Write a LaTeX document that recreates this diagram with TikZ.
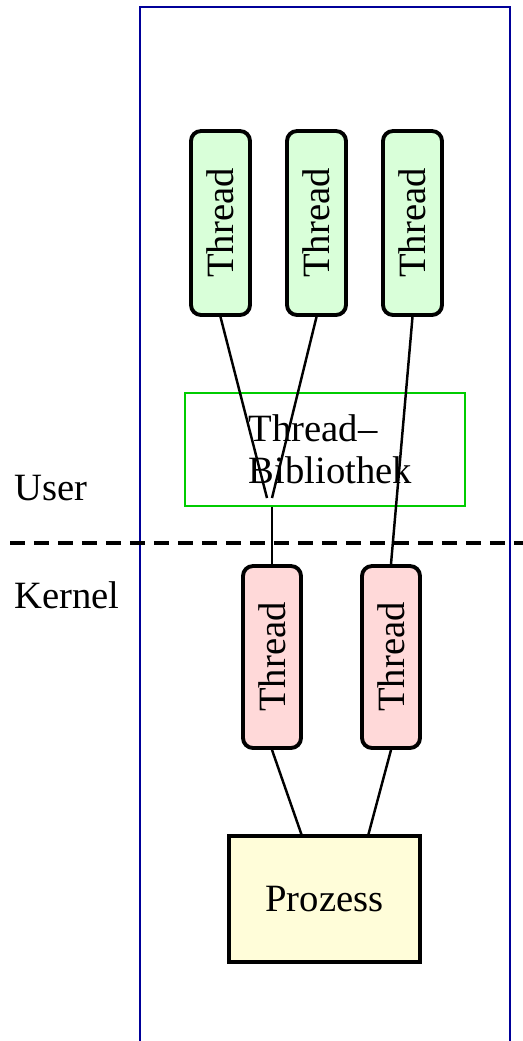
\documentclass[tikz,border=0pt]{standalone}
\usepackage{fontspec}
\setmainfont{Liberation Serif}
\tikzset{
  uthread/.style={draw,line width=2.2pt,rounded corners=0.2cm,fill=green!15,rotate=90,
    minimum width=3.68cm,minimum height=1.18cm,inner sep=0pt},
  kthread/.style={uthread,fill=red!15,minimum width=3.64cm,minimum height=1.16cm},
  link/.style={line width=1.4pt}
}
\begin{document}
\begin{tikzpicture}[x=0.02cm,y=-0.02cm,font=\fontsize{22}{26}\selectfont]
\useasboundingbox (0,0) rectangle (523,1041);
\draw[blue!60!black,line width=1.4pt] (140,1041) -- (140,7) -- (510,7) -- (510,1041);
\draw[line width=2.3pt,dash pattern=on 0.3cm off 0.18cm] (10,543) -- (523,543);
\node[anchor=base west] (user) at (8,500) {User};
\node[anchor=base west] (kernel) at (8,608) {Kernel};
% user threads
\node[uthread] (g1) at (220.5,223) {Thread};
\node[uthread] (g2) at (316.5,223) {Thread};
\node[uthread] (g3) at (412.5,223) {Thread};
% library
\node[draw=green!80!black,line width=1.2pt,minimum width=5.6cm,minimum height=2.26cm,
  align=left,inner sep=0pt,font=\fontsize{22}{24}\selectfont] (lib) at (325,449.5) {\hspace*{6pt}Thread--\\\hspace*{6pt}Bibliothek};
\coordinate (m1) at (267,498);
\coordinate (m2) at (272,498);
% kernel threads
\node[kthread] (k1) at (272,657) {Thread};
\node[kthread] (k2) at (391,657) {Thread};
\node[draw,line width=2.2pt,fill=yellow!15,minimum width=3.82cm,minimum height=2.52cm] (proc) at (324.5,899) {Prozess};
\draw[link] (g1.west) -- (m1);
\draw[link] (g2.west) -- (m2);
\draw[link] (lib.south -| k1) -- (k1.east);
\draw[link] (g3.west) -- (k2.east);
\draw[link] (k1.west) -- (302,836);
\draw[link] (k2.west) -- (368,836);
\end{tikzpicture}
\end{document}
